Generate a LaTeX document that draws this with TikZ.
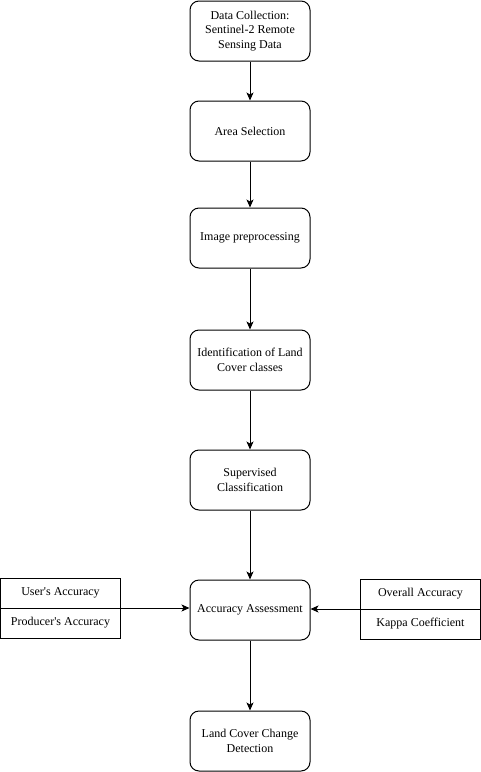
\documentclass[tikz,border=0pt]{standalone}
\usepackage{fontspec}
\setmainfont{Liberation Serif}
\usetikzlibrary{arrows.meta}
\begin{document}
\begin{tikzpicture}[x=1pt,y=-1pt,
  every node/.style={font=\fontsize{12}{14.5}\selectfont, inner sep=0pt},
  flowbox/.style={draw, line width=1pt, rounded corners=9pt, minimum width=120pt, minimum height=60pt, align=center},
  cellbox/.style={draw, line width=1pt, minimum width=120pt, minimum height=30pt, align=center},
  conn/.style={draw, line width=1pt, -{Stealth[length=8pt,width=7pt,inset=2pt]}}]
\useasboundingbox (0,0) rectangle (481,772);
\node[flowbox] (b1) at (250,31) {Data Collection:\\Sentinel-2 Remote\\Sensing Data};
\node[flowbox] (b2) at (250,131) {Area Selection};
\node[flowbox] (b3) at (250,238) {Image preprocessing};
\node[flowbox] (b4) at (250,360) {Identification of Land\\Cover classes};
\node[flowbox] (b5) at (250,480) {Supervised\\Classification};
\node[flowbox] (b6) at (250,610) {Accuracy Assessment};
\node[flowbox] (b7) at (250,741) {Land Cover Change\\Detection};
\node[cellbox] (ua) at (60.5,593) {User\textquotesingle s Accuracy};
\node[cellbox] (pa) at (60.5,623) {Producer\textquotesingle s Accuracy};
\node[cellbox] (oa) at (420.5,594) {Overall Accuracy};
\node[cellbox] (kc) at (420.5,624) {Kappa Coefficient};
\coordinate (lt) at (120.5,608);
\coordinate (rt) at (360.5,609);
\draw[conn] (b1) -- (b2);
\draw[conn] (b2) -- (b3);
\draw[conn] (b3) -- (b4);
\draw[conn] (b4) -- (b5);
\draw[conn] (b5) -- (b6);
\draw[conn] (b6) -- (b7);
\draw[conn] (lt) -- (lt -| b6.west);
\draw[conn] (rt) -- (rt -| b6.east);
\end{tikzpicture}
\end{document}
